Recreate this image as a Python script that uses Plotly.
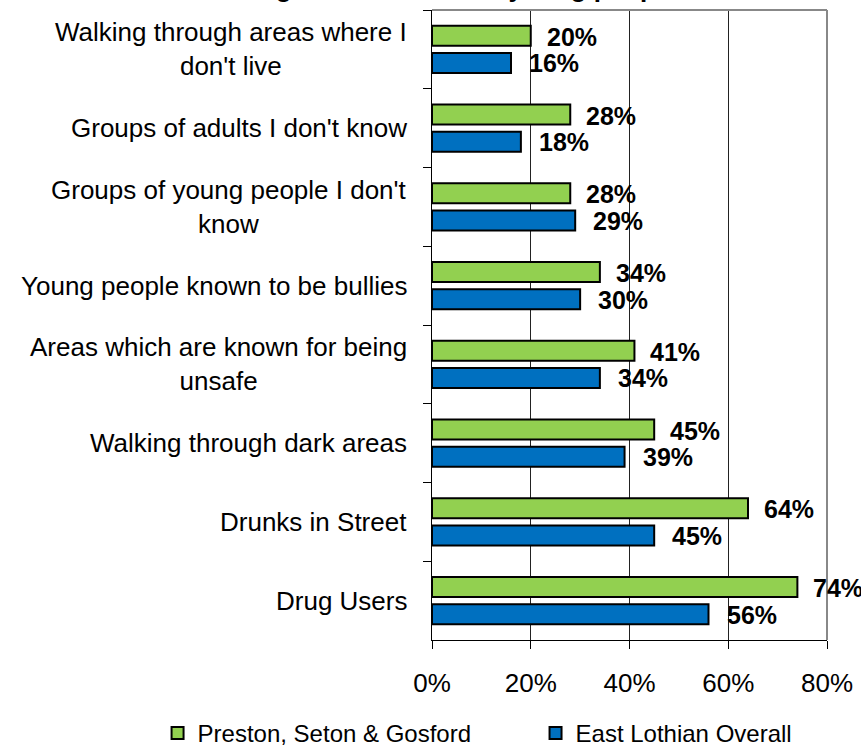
import plotly.graph_objects as go

categories = [
    "Walking through areas where I<br>don't live",
    "Groups of adults I don't know",
    "Groups of young people I don't<br>know",
    "Young people known to be bullies",
    "Areas which are known for being<br>unsafe",
    "Walking through dark areas",
    "Drunks in Street",
    "Drug Users",
]
preston = [20, 28, 28, 34, 41, 45, 64, 74]
east_lothian = [16, 18, 29, 30, 34, 39, 45, 56]
series_names = ["Preston, Seton & Gosford", "East Lothian Overall"]
x_ticks = [0, 20, 40, 60, 80]
x_ticklabels = ["0%", "20%", "40%", "60%", "80%"]
title_text = "Things that make local young people feel unsafe"

FONT = "Liberation Sans, Arial, sans-serif"

fig = go.Figure()
fig.add_trace(go.Bar(y=categories, x=preston, orientation="h", name=series_names[0],
                     legend="legend",
                     marker=dict(color="#92D050", line=dict(color="#000000", width=2))))
fig.add_trace(go.Bar(y=categories, x=east_lothian, orientation="h", name=series_names[1],
                     legend="legend2",
                     marker=dict(color="#0070C0", line=dict(color="#000000", width=2))))

annotations = []
for c, v in zip(categories, preston):
    annotations.append(dict(x=v, y=c, xref="x", yref="y", text=f"<b>{v}%</b>", showarrow=False,
                            xanchor="left", yanchor="middle", xshift=14, yshift=12.5,
                            font=dict(family=FONT, size=25, color="#000")))
for c, v in zip(categories, east_lothian):
    annotations.append(dict(x=v, y=c, xref="x", yref="y", text=f"<b>{v}%</b>", showarrow=False,
                            xanchor="left", yanchor="middle", xshift=16, yshift=-14,
                            font=dict(family=FONT, size=25, color="#000")))
for c in categories:
    annotations.append(dict(x=0, y=c, xref="paper", yref="y", text=c, showarrow=False,
                            xanchor="right", yanchor="middle", xshift=-23, yshift=0,
                            align="center",
                            font=dict(family=FONT, size=26, color="#000")))

annotations.append(dict(x=(521 - 432) / 395, y=1, xref="paper", yref="paper", xanchor="center",
                        yanchor="bottom", yshift=5, text=f"<b>{title_text}</b>", showarrow=False,
                        font=dict(family=FONT, size=26, color="#000")))

fig.update_layout(
    width=861, height=746,
    margin=dict(l=432, r=34, t=10, b=106, autoexpand=False),
    paper_bgcolor="white", plot_bgcolor="white",
    barmode="group", bargap=0.31, bargroupgap=0.26,
    font=dict(family=FONT, size=24, color="#000"),
    showlegend=True,
    legend=dict(orientation="h", xref="container", yref="container", x=0.183, y=0.017,
                xanchor="left", yanchor="middle",
                font=dict(family=FONT, size=24, color="#000"), itemwidth=30),
    legend2=dict(orientation="h", xref="container", yref="container", x=0.622, y=0.017,
                 xanchor="left", yanchor="middle",
                 font=dict(family=FONT, size=24, color="#000"), itemwidth=30),
    annotations=annotations,
    shapes=[
        dict(type="line", xref="paper", yref="paper", x0=0, x1=1, y0=1, y1=1,
             line=dict(color="#888888", width=2)),
        dict(type="line", xref="paper", yref="paper", x0=1, x1=1, y0=0, y1=1,
             line=dict(color="#888888", width=2)),
    ],
)
fig.update_xaxes(range=[0, 80], tickvals=x_ticks, ticktext=x_ticklabels, automargin=False,
                 showgrid=True, gridcolor="#222222", gridwidth=1,
                 showline=True, linecolor="#000000", linewidth=1,
                 ticks="outside", ticklen=8, tickcolor="#000", ticklabelstandoff=12,
                 zeroline=False, tickfont=dict(family=FONT, size=26, color="#000"))
fig.update_yaxes(autorange="reversed", showticklabels=False, showline=True, automargin=False,
                 linecolor="#000000", linewidth=1, ticks="outside", ticklen=8,
                 tickcolor="#000", tickson="boundaries", showgrid=False)

fig.write_html("out.html", config={"displayModeBar": False},
               post_script="document.body.style.margin='0';")
